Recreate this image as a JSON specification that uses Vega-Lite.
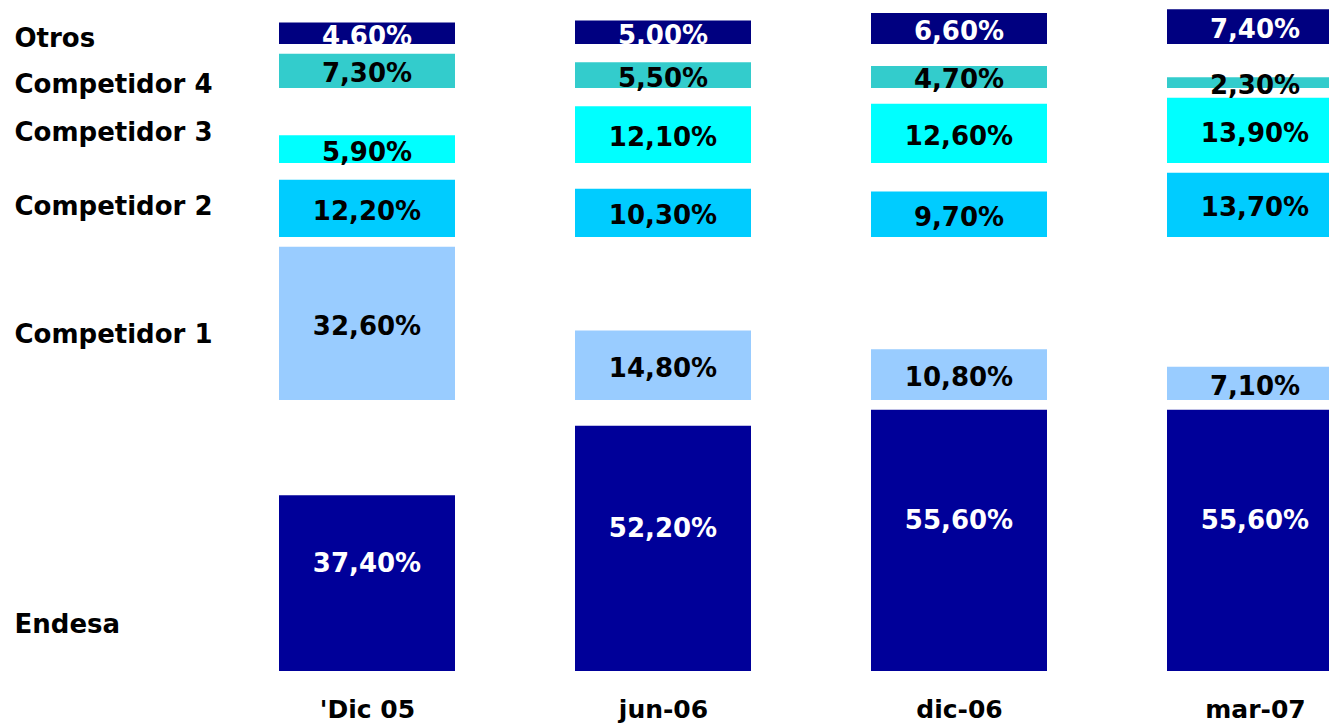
{
  "$schema": "https://vega.github.io/schema/vega-lite/v6.json",
  "width": 1110,
  "height": 671,
  "autosize": {"type": "none"},
  "padding": {"left": 219, "top": 0, "right": 0, "bottom": 52},
  "background": "white",
  "config": {"view": {"stroke": null}},
  "data": {
    "values": [
      {"p": 1, "series": "Endesa", "rank": 1, "value": 0.374},
      {"p": 2, "series": "Endesa", "rank": 1, "value": 0.522},
      {"p": 3, "series": "Endesa", "rank": 1, "value": 0.556},
      {"p": 4, "series": "Endesa", "rank": 1, "value": 0.556},
      {"p": 1, "series": "Competidor 1", "rank": 2, "value": 0.326},
      {"p": 2, "series": "Competidor 1", "rank": 2, "value": 0.148},
      {"p": 3, "series": "Competidor 1", "rank": 2, "value": 0.108},
      {"p": 4, "series": "Competidor 1", "rank": 2, "value": 0.071},
      {"p": 1, "series": "Competidor 2", "rank": 3, "value": 0.122},
      {"p": 2, "series": "Competidor 2", "rank": 3, "value": 0.103},
      {"p": 3, "series": "Competidor 2", "rank": 3, "value": 0.097},
      {"p": 4, "series": "Competidor 2", "rank": 3, "value": 0.137},
      {"p": 1, "series": "Competidor 3", "rank": 4, "value": 0.059},
      {"p": 2, "series": "Competidor 3", "rank": 4, "value": 0.121},
      {"p": 3, "series": "Competidor 3", "rank": 4, "value": 0.126},
      {"p": 4, "series": "Competidor 3", "rank": 4, "value": 0.139},
      {"p": 1, "series": "Competidor 4", "rank": 5, "value": 0.073},
      {"p": 2, "series": "Competidor 4", "rank": 5, "value": 0.055},
      {"p": 3, "series": "Competidor 4", "rank": 5, "value": 0.047},
      {"p": 4, "series": "Competidor 4", "rank": 5, "value": 0.023},
      {"p": 1, "series": "Otros", "rank": 6, "value": 0.046},
      {"p": 2, "series": "Otros", "rank": 6, "value": 0.05},
      {"p": 3, "series": "Otros", "rank": 6, "value": 0.066},
      {"p": 4, "series": "Otros", "rank": 6, "value": 0.074}
    ]
  },
  "transform": [
    {"joinaggregate": [{"op": "max", "field": "value", "as": "maxv"}], "groupby": ["series"]},
    {"calculate": "datum.maxv + 0.0206", "as": "slot"},
    {"stack": "slot", "groupby": ["p"], "sort": [{"field": "rank", "order": "ascending"}], "as": ["base", "slotEnd"]},
    {"calculate": "datum.base + datum.value", "as": "top"},
    {"calculate": "(datum.base + datum.top) / 2", "as": "mid"},
    {"calculate": "replace(format(datum.value, '.2%'), '.', ',')", "as": "label"}
  ],
  "encoding": {
    "x": {
      "field": "p",
      "type": "quantitative",
      "scale": {"domain": [0.5, 4.25], "nice": false, "zero": false, "padding": 0},
      "axis": {
        "title": null,
        "domain": false,
        "ticks": false,
        "grid": false,
        "tickSize": 0,
        "values": [1, 2, 3, 4],
        "labelExpr": "datum.value == 1 ? \"'Dic 05\" : datum.value == 2 ? 'jun-06' : datum.value == 3 ? 'dic-06' : 'mar-07'",
        "labelAngle": 0,
        "labelAlign": "center",
        "labelPadding": 46,
        "labelBaseline": "alphabetic",
        "labelOverlap": false,
        "labelBound": false,
        "labelFlush": false,
        "labelLimit": 0,
        "labelFont": "DejaVu Sans",
        "labelFontWeight": "bold",
        "labelFontSize": 25,
        "labelColor": "black"
      }
    }
  },
  "layer": [
    {
      "mark": {"type": "bar", "width": 176},
      "encoding": {
        "y": {
          "field": "base",
          "type": "quantitative",
          "scale": {"domain": [0, 1.4277], "nice": false},
          "axis": {
            "title": null,
            "domain": false,
            "ticks": false,
            "tickSize": 0,
            "grid": false,
            "values": [0.0823, 0.6985, 0.9717, 1.1298, 1.2304, 1.3287],
            "labelExpr": "datum.value > 1.3 ? 'Otros' : datum.value > 1.2 ? 'Competidor 4' : datum.value > 1.1 ? 'Competidor 3' : datum.value > 0.9 ? 'Competidor 2' : datum.value > 0.5 ? 'Competidor 1' : 'Endesa'",
            "labelAlign": "left",
            "labelBaseline": "alphabetic",
            "labelPadding": 205,
            "labelOverlap": false,
            "labelBound": false,
            "labelFlush": false,
            "labelLimit": 0,
            "labelFont": "DejaVu Sans",
            "labelFontWeight": "bold",
            "labelFontSize": 26,
            "labelColor": "black"
          }
        },
        "y2": {"field": "top"},
        "color": {
          "field": "series",
          "type": "nominal",
          "scale": {
            "domain": ["Endesa", "Competidor 1", "Competidor 2", "Competidor 3", "Competidor 4", "Otros"],
            "range": ["#000099", "#99CCFF", "#00CCFF", "#00FFFF", "#33CCCC", "#000080"]
          },
          "legend": null
        }
      }
    },
    {
      "transform": [{"filter": "datum.rank == 1"}],
      "mark": {"type": "text", "dy": -19.5, "baseline": "middle", "align": "center", "font": "DejaVu Sans", "fontWeight": "bold", "fontSize": 26, "color": "white"},
      "encoding": {
        "y": {"field": "mid", "type": "quantitative"},
        "text": {"field": "label", "type": "nominal"}
      }
    },
    {
      "transform": [{"filter": "datum.rank > 1"}],
      "mark": {"type": "text", "dy": 3.5, "baseline": "middle", "align": "center", "font": "DejaVu Sans", "fontWeight": "bold", "fontSize": 26},
      "encoding": {
        "y": {"field": "mid", "type": "quantitative"},
        "text": {"field": "label", "type": "nominal"},
        "color": {"condition": {"test": "datum.rank == 6", "value": "white"}, "value": "black"}
      }
    }
  ]
}
